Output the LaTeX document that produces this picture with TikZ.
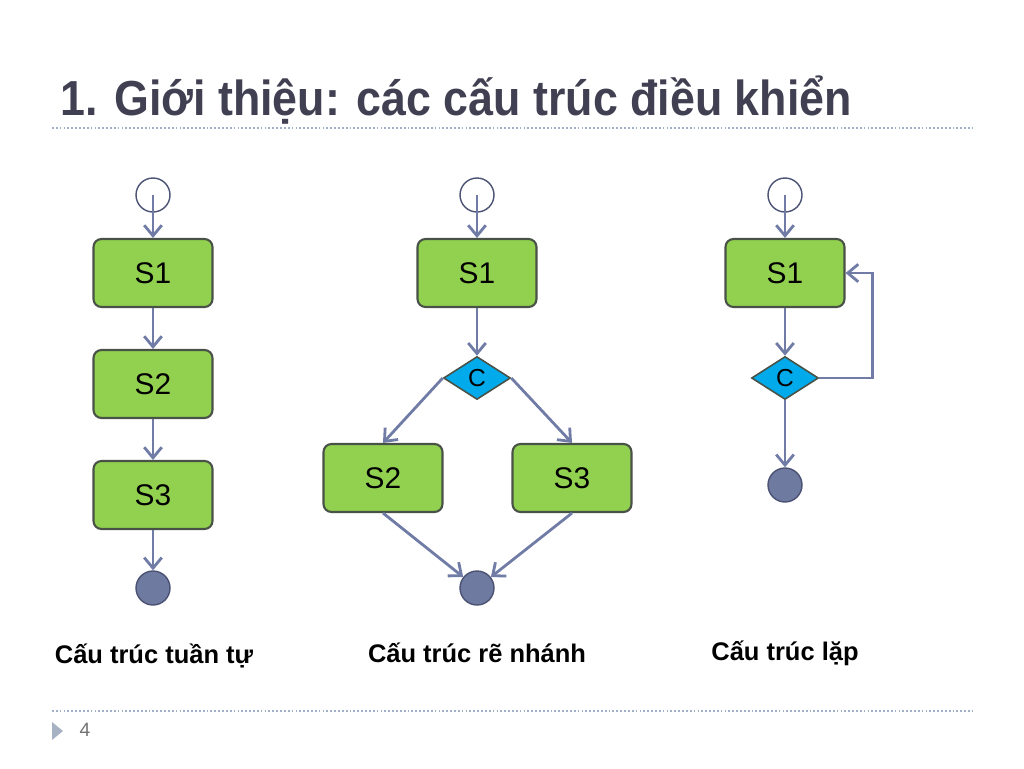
\documentclass[tikz,border=0pt]{standalone}
\usepackage{fontspec}
\setmainfont{Liberation Sans}
\newfontfamily\titlefont[FakeStretch=0.91]{Liberation Sans}
\usetikzlibrary{arrows.meta,shapes.geometric}
\definecolor{stepgreen}{RGB}{146,208,80}
\definecolor{stepedge}{RGB}{72,82,70}
\definecolor{condblue}{RGB}{0,170,235}
\definecolor{flowblue}{RGB}{112,124,166}
\definecolor{dotfill}{RGB}{110,122,160}
\definecolor{dotedge}{RGB}{75,82,115}
\definecolor{titlegray}{RGB}{64,64,82}
\definecolor{rulegray}{RGB}{160,176,200}
\tikzset{
    stepbox/.style = {
        draw=stepedge,
        fill=stepgreen,
        shape=rectangle,
        rounded corners=4.5pt,
        minimum height=1.36cm,
        minimum width=2.38cm,
        line width=1.2pt,
        font=\fontsize{17}{17}\selectfont
    },
    cond/.style = {
        draw=stepedge,
        fill=condblue,
        shape=diamond,
        inner sep=0pt,
        minimum width=1.34cm,
        minimum height=0.86cm,
        line width=0.9pt,
        font=\fontsize{14}{14}\selectfont
    },
    startpt/.style = {
        draw=dotedge,
        fill=white,
        shape=circle,
        minimum size=0.68cm,
        line width=0.8pt
    },
    endpt/.style = {
        draw=dotedge,
        fill=dotfill,
        shape=circle,
        minimum size=0.68cm,
        line width=0.8pt
    },
    caption/.style = {
        font=\bfseries\fontsize{14.5}{14.5}\selectfont,
        inner sep=0pt
    },
    flow/.style = {
        draw=flowblue,
        line width=1.6pt,
        -{Straight Barb[length=6pt,width=10pt,line width=1.6pt]}
    },
    rule/.style = {
        draw=rulegray,
        line width=0.6pt,
        dash pattern=on 1pt off 1.2pt
    },
}

\begin{document}
\begin{tikzpicture}[x=0.02cm,y=-0.02cm]

            \useasboundingbox (0,0) rectangle (1024,768);

            \node[anchor=west, inner sep=0pt, text=titlegray] (title) at (60,100) {\titlefont\bfseries\fontsize{28}{28}\selectfont 1. Giới thiệu: các cấu trúc điều khiển};
            \path[rule] (52,128) -- (972,128);
            \path[rule] (52,711) -- (972,711);
            \fill[rulegray!90!black!80] (52,722) -- (63,731) -- (52,740) -- cycle;
            \node[text=black!55, font=\fontsize{11}{11}\selectfont] (pagenum) at (85,730) {4};

            % tuan tu
            \node[startpt] (start_seq) at (153,195) {};
            \node[stepbox] (s1_seq) at (153,273) {S1};
            \node[stepbox] (s2_seq) at (153,384) {S2};
            \node[stepbox] (s3_seq) at (153,495) {S3};
            \node[endpt] (end_seq) at (153,588) {};
            \node[caption] (cap_seq) at (154,656) {Cấu trúc tuần tự};

            % re nhanh
            \node[startpt] (start_br) at (477,195) {};
            \node[stepbox] (s1_br) at (477,273) {S1};
            \node[cond] (c_br) at (477,378) {C};
            \node[stepbox] (s2_br) at (383,478) {S2};
            \node[stepbox] (s3_br) at (572,478) {S3};
            \node[endpt] (end_br) at (477,588) {};
            \node[caption] (cap_br) at (477,653) {Cấu trúc rẽ nhánh};

            % lap
            \node[startpt] (start_loop) at (785,195) {};
            \node[stepbox] (s1_loop) at (785,273) {S1};
            \node[cond] (c_loop) at (785,378) {C};
            \node[endpt] (end_loop) at (785,485) {};
            \node[caption] (cap_loop) at (785,653) {Cấu trúc lặp};

            \path[flow] (start_seq.center) -- (s1_seq.north);
            \path[flow] (s1_seq.south) -- (s2_seq.north);
            \path[flow] (s2_seq.south) -- (s3_seq.north);
            \path[flow] (s3_seq.south) -- (end_seq.north);

            \path[flow] (start_br.center) -- (s1_br.north);
            \path[flow] (s1_br.south) -- (c_br.north);
            \path[flow] (c_br.west) -- (s2_br.north);
            \path[flow] (c_br.east) -- (s3_br.north);
            \path[flow] (s2_br.south) -- (end_br);
            \path[flow] (s3_br.south) -- (end_br);

            \path[flow] (start_loop.center) -- (s1_loop.north);
            \path[flow] (s1_loop.south) -- (c_loop.north);
            \path[flow] (c_loop.east) -- ++(53,0) |- (s1_loop.east);
            \path[flow] (c_loop.south) -- (end_loop.north);

        \end{tikzpicture}
\end{document}
